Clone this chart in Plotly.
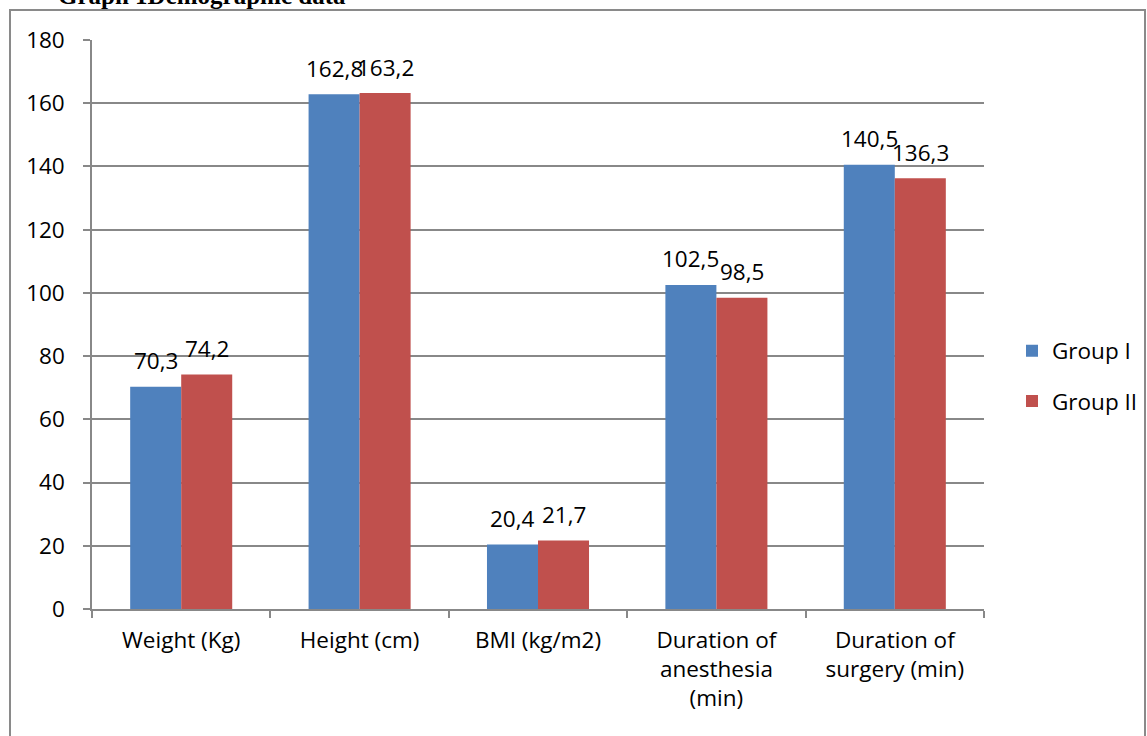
import plotly.graph_objects as go

categories = ["Weight (Kg)", "Height (cm)", "BMI (kg/m2)", "Duration of<br>anesthesia<br>(min)", "Duration of<br>surgery (min)"]
group1 = [70.3, 162.8, 20.4, 102.5, 140.5]
group2 = [74.2, 163.2, 21.7, 98.5, 136.3]
series_names = ["Group I", "Group II"]
colors = ["#4F81BD", "#C0504D"]
y_ticks = [0, 20, 40, 60, 80, 100, 120, 140, 160, 180]

FONT = "Open Sans"
FS = 22.5
GRID = "#888888"

def fmt(v):
    return f"{v:.1f}".replace(".", ",")

fig = go.Figure()
for name, vals, col in zip(series_names, [group1, group2], colors):
    fig.add_trace(go.Bar(x=categories, y=vals, name=name, marker_color=col,
                         marker_line_width=0, legendgroup=name))

annotations = []
for vals, shift in [(group1, -25.5), (group2, 25.5)]:
    for c, v in zip(categories, vals):
        annotations.append(dict(x=c, y=v, xref="x", yref="y", text=fmt(v), showarrow=False,
                                xshift=shift, yshift=26, yanchor="middle", xanchor="center",
                                font=dict(family=FONT, size=FS, color="black")))

L, R, T, B = 92, 984, 40, 609
W, H = 1147, 736
pw, ph = R - L, B - T
def px(x):
    return (x - L) / pw
def py(y):
    return (B - y) / ph

annotations.append(dict(x=px(348), y=py(-4), xref="paper", yref="paper", text="<b>Graph 1Demographic data</b>",
                        showarrow=False, xanchor="right", yanchor="middle",
                        font=dict(family="Liberation Serif", size=25, color="black")))

fig.update_layout(
    width=W, height=H,
    margin=dict(l=L, r=W - R, t=T, b=H - B, pad=0, autoexpand=False),
    paper_bgcolor="white", plot_bgcolor="white",
    barmode="group", bargap=0.428, bargroupgap=0,
    font=dict(family=FONT, size=FS, color="black"),
    legend=dict(x=px(1012), y=py(376), xanchor="left", yanchor="middle",
                font=dict(family=FONT, size=FS), tracegroupgap=18, itemwidth=30),
    annotations=annotations,
    shapes=[dict(type="rect", xref="paper", yref="paper", x0=px(10), x1=px(1145), y0=py(760), y1=py(10),
                 line=dict(color="#8a8a8a", width=2), fillcolor="rgba(0,0,0,0)", layer="below")],
    xaxis=dict(showline=True, linecolor=GRID, linewidth=1.5, ticks="outside", tickson="boundaries",
               ticklen=7, tickcolor=GRID, tickwidth=1.5, showgrid=False,
               tickfont=dict(family=FONT, size=FS), ticklabelstandoff=10),
    yaxis=dict(range=[0, 180], tickvals=y_ticks, showgrid=True, gridcolor=GRID, gridwidth=1.5,
               showline=True, linecolor=GRID, linewidth=1.5, ticks="outside", ticklen=7,
               tickcolor=GRID, tickwidth=1.5, zeroline=False,
               tickfont=dict(family=FONT, size=FS), ticklabelstandoff=14),
    showlegend=True,
)

fig.write_html("out.html", config={"displayModeBar": False},
               post_script="document.body.style.margin='0';")
